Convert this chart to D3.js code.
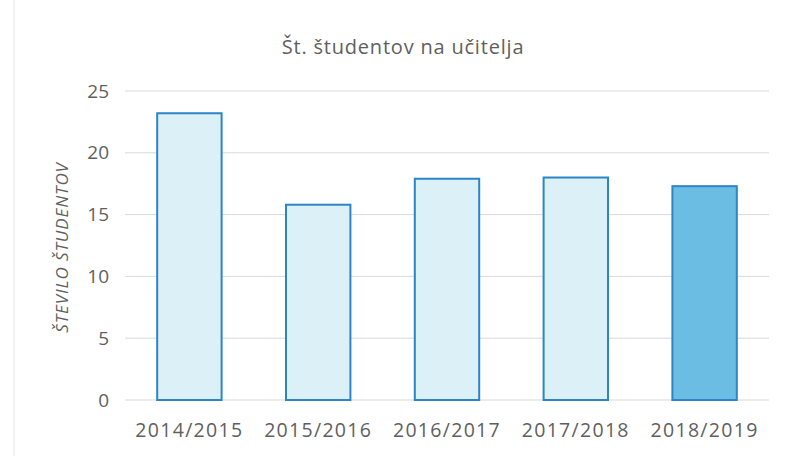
<!DOCTYPE html>
<html>
<head>
<meta charset="utf-8">
<script src="https://cdn.jsdelivr.net/npm/d3@7"></script>
<style>
  body { margin: 0; background: #fff; }
  svg { display: block; font-family: "Open Sans", "Noto Sans", sans-serif; }
</style>
</head>
<body>
<svg id="chart" width="789" height="456"></svg>
<script>
// Podatki
const years = ['2014/2015', '2015/2016', '2016/2017', '2017/2018', '2018/2019'];
const students = [23.2, 15.8, 17.9, 18.0, 17.3];
const yTicks = [0, 5, 10, 15, 20, 25];

const width = 789;
const height = 456;
const margin = { top: 91, right: 20, bottom: 56, left: 125 };
const font = '"Open Sans", "Noto Sans", sans-serif';

const svg = d3.select('#chart');

// Rob okvirja
svg.append('line')
    .attr('x1', 14).attr('x2', 14)
    .attr('y1', 0).attr('y2', height)
    .attr('stroke', '#e4e4e4');

const x = d3.scaleBand()
    .domain(years)
    .range([margin.left, width - margin.right])
    .paddingInner(0.5)
    .paddingOuter(0.25);

const y = d3.scaleLinear()
    .domain([0, 25])
    .range([height - margin.bottom, margin.top]);

// Mreža
svg.append('g')
    .selectAll('line')
    .data(yTicks)
    .join('line')
    .attr('x1', margin.left)
    .attr('x2', width - margin.right)
    .attr('y1', d => y(d))
    .attr('y2', d => y(d))
    .attr('stroke', '#d9d9d9')
    .attr('stroke-width', 1);

// Os y
const yAxis = svg.append('g')
    .attr('transform', `translate(${margin.left},0)`)
    .call(d3.axisLeft(y).tickValues(yTicks).tickSize(0).tickPadding(16));
yAxis.attr('font-family', font).attr('font-size', null);
yAxis.select('.domain').remove();
yAxis.selectAll('text')
    .attr('fill', '#5f5f5f')
    .style('font-size', '19px');

// Os x
const xAxis = svg.append('g')
    .attr('transform', `translate(0,${y(0)})`)
    .call(d3.axisBottom(x).tickSize(0).tickPadding(23));
xAxis.attr('font-family', font).attr('font-size', null);
xAxis.select('.domain').remove();
xAxis.selectAll('text')
    .attr('fill', '#5f5f5f')
    .style('font-size', '19.5px')
    .style('letter-spacing', '1.3px');

// Stolpci
svg.append('g')
    .selectAll('rect')
    .data(years)
    .join('rect')
    .attr('x', d => x(d))
    .attr('y', (d, i) => y(students[i]))
    .attr('width', x.bandwidth())
    .attr('height', (d, i) => y(0) - y(students[i]))
    .attr('fill', (d, i) => i === years.length - 1 ? '#6cbde4' : '#dcf0f8')
    .attr('stroke', '#2b85c6')
    .attr('stroke-width', 2);

// Naslov
svg.append('text')
    .attr('x', 403)
    .attr('y', 54)
    .attr('text-anchor', 'middle')
    .attr('fill', '#5f5f5f')
    .style('font-size', '20px')
    .style('letter-spacing', '0.8px')
    .text('Št. študentov na učitelja');

// Naslov osi y
svg.append('text')
    .attr('transform', `translate(68,${(y(0) + y(25)) / 2 + 2}) rotate(-90)`)
    .attr('text-anchor', 'middle')
    .attr('fill', '#5f5f5f')
    .style('font-size', '17px')
    .style('font-style', 'italic')
    .style('letter-spacing', '0.9px')
    .text('ŠTEVILO ŠTUDENTOV');
</script>
</body>
</html>
